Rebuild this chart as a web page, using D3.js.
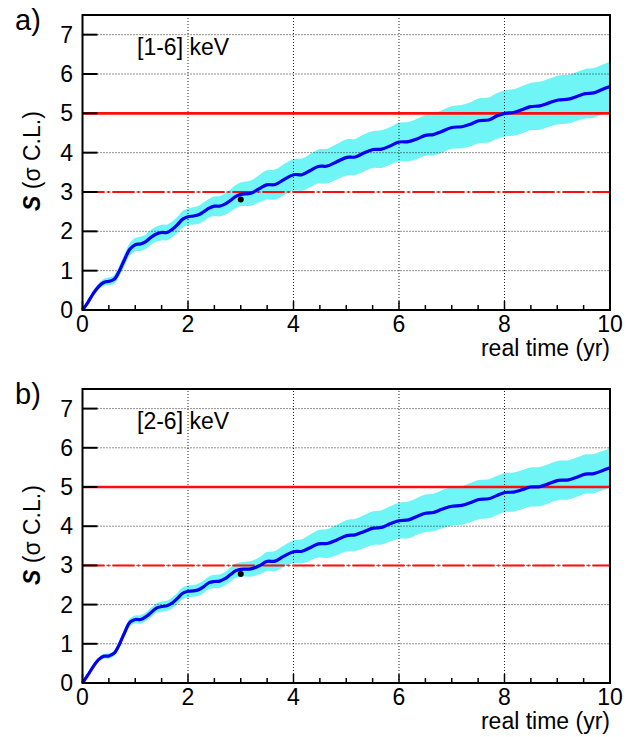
<!DOCTYPE html>
<html>
<head>
<meta charset="utf-8">
<script src="https://cdn.jsdelivr.net/npm/d3@7"></script>
<style>
body { margin: 0; background: #fff; }
text { font-family: "Liberation Sans", Arial, sans-serif; fill: #000; }
</style>
</head>
<body>
<div class="container"></div>
<script>
const width = 638, height = 737;

// sampling times (yr), shared by both panels
const times = [0,0.1,0.2,0.3,0.4,0.5,0.6,0.7,0.8,0.9,1.0,1.1,1.2,1.3,1.4,1.5,1.6,1.7,1.8,1.9,2.0,
	2.1,2.2,2.3,2.4,2.5,2.6,2.7,2.8,2.9,3.0,
	3.19,3.37,3.49,3.65,3.81, 4.0,4.16,4.31,4.47,4.64,4.82, 5.01,5.17,5.33,5.51,5.67,5.83,
	6.0,6.18,6.34,6.5,6.65,6.81, 7.0,7.19,7.35,7.51,7.7,7.85, 8.01,8.17,8.33,8.49,8.67,8.83,
	9.02,9.21,9.37,9.53,9.69,9.84,10.0];

// panel a) [1-6] keV
const sigA = [0,0.19,0.41,0.59,0.70,0.73,0.78,1.0,1.29,1.55,1.66,1.68,1.74,1.85,1.93,1.97,1.97,2.05,2.17,2.31,2.37,
	2.39,2.42,2.5,2.59,2.64,2.64,2.69,2.78,2.88,2.94,
	2.97,3.10,3.18,3.19,3.31, 3.44,3.44,3.54,3.65,3.66,3.77, 3.88,3.89,3.99,4.08,4.09,4.17,
	4.27,4.28,4.35,4.44,4.46,4.54, 4.64,4.66,4.72,4.81,4.83,4.93, 5.0,5.02,5.09,5.17,5.19,5.26,
	5.34,5.36,5.43,5.50,5.52,5.60,5.68];
const errA = [0.03,0.05,0.07,0.08,0.09,0.1,0.11,0.13,0.15,0.16,0.17,0.18,0.18,0.19,0.19,0.2,0.2,0.2,0.2,0.21,0.21,
	0.22,0.23,0.24,0.24,0.25,0.26,0.27,0.28,0.29,0.3,
	0.32,0.35,0.37,0.38,0.39, 0.4,0.41,0.42,0.43,0.44,0.45, 0.46,0.46,0.47,0.47,0.48,0.48,
	0.49,0.5,0.51,0.52,0.53,0.54, 0.54,0.55,0.56,0.57,0.57,0.58, 0.59,0.59,0.6,0.6,0.61,0.61,
	0.62,0.62,0.62,0.63,0.63,0.63,0.63];

// panel b) [2-6] keV
const sigB = [0,0.2,0.41,0.59,0.68,0.69,0.76,0.99,1.29,1.55,1.62,1.62,1.69,1.80,1.91,1.95,1.97,2.04,2.16,2.29,2.34,
	2.35,2.38,2.46,2.56,2.59,2.6,2.66,2.76,2.86,2.90,
	2.91,3.0,3.1,3.11,3.23, 3.35,3.36,3.45,3.55,3.56,3.65, 3.76,3.78,3.86,3.95,3.97,4.06,
	4.14,4.16,4.25,4.33,4.35,4.43, 4.51,4.53,4.6,4.68,4.7,4.78, 4.86,4.87,4.93,5.0,5.01,5.08,
	5.17,5.18,5.25,5.33,5.34,5.41,5.49];
const errB = [0.02,0.03,0.04,0.05,0.06,0.07,0.07,0.08,0.09,0.1,0.1,0.11,0.11,0.12,0.12,0.13,0.13,0.14,0.14,0.15,0.15,
	0.15,0.16,0.16,0.16,0.17,0.17,0.17,0.18,0.18,0.18,
	0.2,0.22,0.24,0.26,0.27, 0.29,0.31,0.33,0.35,0.37,0.39, 0.4,0.41,0.42,0.43,0.44,0.45,
	0.46,0.47,0.47,0.48,0.48,0.49, 0.49,0.49,0.5,0.5,0.5,0.5, 0.5,0.5,0.5,0.5,0.5,0.5,
	0.5,0.5,0.5,0.5,0.5,0.5,0.5];

// measured points
const pointA = [3.0, 2.81];
const pointB = [3.0, 2.78];

const xTicks = [0, 2, 4, 6, 8, 10];
const yTicks = [0, 1, 2, 3, 4, 5, 6, 7];
const limits = [3, 5];

const svg = d3.select('.container').append('svg')
	.attr('width', width)
	.attr('height', height);

function draw_panel(top, bottom, sig, err, pt, tag, range) {
	const sx = d3.scaleLinear().domain([0, 10]).range([82.5, 610]);
	const sy = d3.scaleLinear().domain([0, 7.5]).range([bottom, top]);
	const g = svg.append('g');

	const data = times.map((t, i) => ({t: t, s: sig[i], e: err[i]}));

	// band
	g.append('path')
		.datum(data)
		.attr('fill', '#6ff5f5')
		.attr('d', d3.area()
			.curve(d3.curveCatmullRom)
			.x(d => sx(d.t))
			.y0(d => sy(d.s - d.e))
			.y1(d => sy(d.s + d.e)));

	// grid
	g.append('g').selectAll('line')
		.data(yTicks.filter(v => v > 0))
		.join('line')
		.attr('x1', sx(0)).attr('x2', sx(10))
		.attr('y1', d => sy(d)).attr('y2', d => sy(d))
		.attr('stroke', '#222').attr('stroke-width', 1)
		.attr('stroke-dasharray', '1,2');
	g.append('g').selectAll('line')
		.data(xTicks.filter(v => v > 0 && v < 10))
		.join('line')
		.attr('x1', d => sx(d)).attr('x2', d => sx(d))
		.attr('y1', sy(0)).attr('y2', sy(7.5))
		.attr('stroke', '#222').attr('stroke-width', 1)
		.attr('stroke-dasharray', '1,2');

	// limit lines
	g.append('line')
		.attr('x1', sx(0)).attr('x2', sx(10))
		.attr('y1', sy(limits[1])).attr('y2', sy(limits[1]))
		.attr('stroke', '#ff0d0d').attr('stroke-width', 2.6);
	g.append('line')
		.attr('x1', sx(0)).attr('x2', sx(10))
		.attr('y1', sy(limits[0])).attr('y2', sy(limits[0]))
		.attr('stroke', '#ff0d0d').attr('stroke-width', 2)
		.attr('stroke-dasharray', '22,3,2,3');

	// curve
	g.append('path')
		.datum(data)
		.attr('fill', 'none')
		.attr('stroke', '#0000f0')
		.attr('stroke-width', 3.2)
		.attr('d', d3.line()
			.curve(d3.curveCatmullRom)
			.x(d => sx(d.t))
			.y(d => sy(d.s)));

	g.append('circle')
		.attr('cx', sx(pt[0])).attr('cy', sy(pt[1]))
		.attr('r', 3).attr('fill', '#000');

	// frame
	g.append('rect')
		.attr('x', sx(0)).attr('y', sy(7.5))
		.attr('width', sx(10) - sx(0)).attr('height', sy(0) - sy(7.5))
		.attr('fill', 'none').attr('stroke', '#000').attr('stroke-width', 2);

	// y ticks
	g.append('g').selectAll('line')
		.data(yTicks)
		.join('line')
		.attr('x1', sx(0)).attr('x2', sx(0) + 15)
		.attr('y1', d => sy(d)).attr('y2', d => sy(d))
		.attr('stroke', '#000').attr('stroke-width', 2);
	g.append('g').selectAll('text')
		.data(yTicks)
		.join('text')
		.attr('x', 73).attr('y', d => sy(d) + 8)
		.attr('text-anchor', 'end')
		.attr('font-size', 23)
		.text(d => d);

	// x ticks
	const minor = d3.range(0, 10.01, 0.5);
	g.append('g').selectAll('line')
		.data(minor)
		.join('line')
		.attr('x1', d => sx(d)).attr('x2', d => sx(d))
		.attr('y1', sy(0)).attr('y2', d => sy(0) - (d % 2 === 0 ? 9 : 5))
		.attr('stroke', '#000').attr('stroke-width', 1.5);
	g.append('g').selectAll('text')
		.data(xTicks)
		.join('text')
		.attr('x', d => sx(d)).attr('y', sy(0) + 22)
		.attr('text-anchor', 'middle')
		.attr('font-size', 23)
		.text(d => d);

	g.append('text')
		.attr('x', 610).attr('y', sy(0) + 46)
		.attr('text-anchor', 'end')
		.attr('font-size', 23)
		.text('real time (yr)');

	// y title
	const yt = g.append('text')
		.attr('transform', 'translate(40,' + (top + 196) + ') rotate(-90)')
		.attr('font-size', 23);
	yt.append('tspan').attr('font-weight', 'bold').attr('font-style', 'italic').text('S');
	yt.append('tspan').text(' (σ C.L.)');

	g.append('text')
		.attr('x', 137).attr('y', top + 40)
		.attr('font-size', 23)
		.text(range);

	g.append('text')
		.attr('x', 15).attr('y', top + 15)
		.attr('font-size', 29)
		.text(tag);
}

draw_panel(15, 310, sigA, errA, pointA, 'a)', '[1-6] keV');
draw_panel(389, 683, sigB, errB, pointB, 'b)', '[2-6] keV');
</script>
</body>
</html>
